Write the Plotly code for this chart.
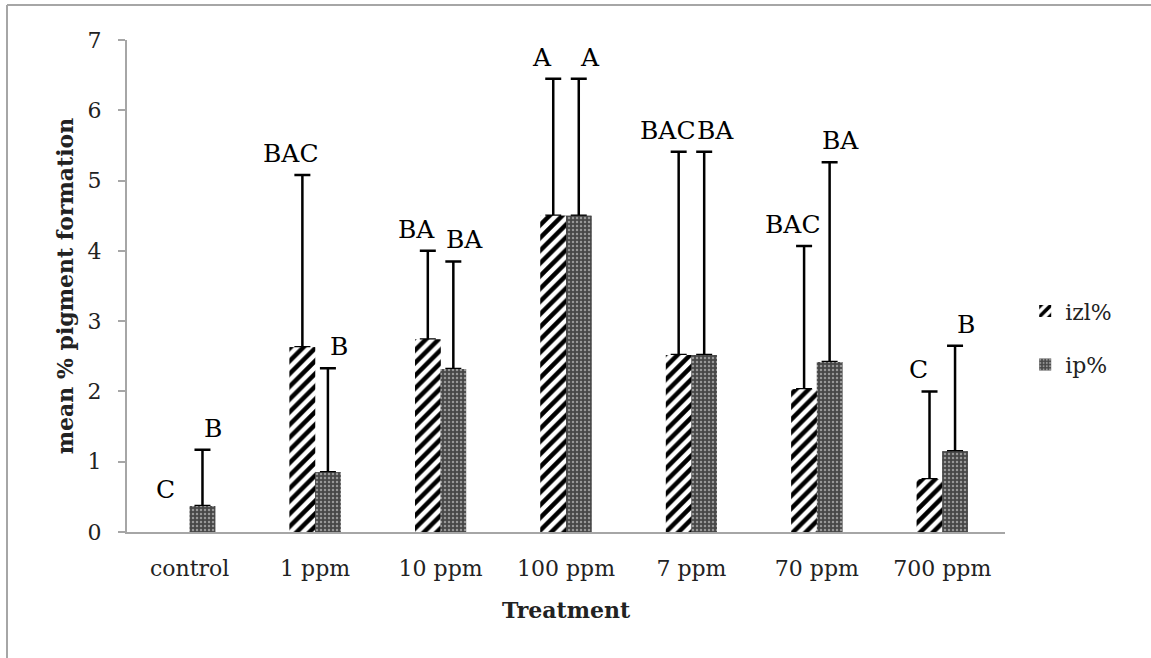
import plotly.graph_objects as go

categories = ["control", "1 ppm", "10 ppm", "100 ppm", "7 ppm", "70 ppm", "700 ppm"]

izl_values = [0.0, 2.63, 2.74, 4.50, 2.52, 2.03, 0.75]
izl_err = [0.0, 2.45, 1.26, 1.95, 2.89, 2.04, 1.25]
izl_letters = ["C", "BAC", "BA", "A", "BAC", "BAC", "C"]

ip_values = [0.37, 0.85, 2.32, 4.50, 2.52, 2.42, 1.15]
ip_err = [0.80, 1.48, 1.53, 1.95, 2.89, 2.84, 1.50]
ip_letters = ["B", "B", "BA", "A", "BA", "BA", "B"]

y_ticks = [0, 1, 2, 3, 4, 5, 6, 7]

FONT = "DejaVu Serif"
GRAY = "#a6a6a6"
TXT = "#222222"

izl_marker = dict(color="white", line=dict(width=0),
                  pattern=dict(shape="/", fgcolor="black", bgcolor="white",
                               fgopacity=1, size=9, solidity=0.5))
ip_marker = dict(color="#555555", line=dict(width=0),
                 pattern=dict(shape=".", fgcolor="#e6e6e6", bgcolor="#474747",
                              size=4, solidity=0.3))

# zero-height bars are not drawn (no bar, no error cap)
izl_plot = [v if v > 0 else None for v in izl_values]
ip_plot = [v if v > 0 else None for v in ip_values]

fig = go.Figure()
# bars carrying the (upward-only) error bars
fig.add_trace(go.Bar(
    name="izl%", x=categories, y=izl_plot, legendgroup="a", offsetgroup="izl",
    marker=izl_marker,
    error_y=dict(type="data", array=izl_err, arrayminus=[0] * len(izl_err),
                 symmetric=False, color="black", thickness=2.5, width=8),
))
fig.add_trace(go.Bar(
    name="ip%", x=categories, y=ip_plot, legendgroup="b", offsetgroup="ip",
    marker=ip_marker,
    error_y=dict(type="data", array=ip_err, arrayminus=[0] * len(ip_err),
                 symmetric=False, color="black", thickness=2.5, width=8),
))
# identical bars drawn on top to hide the lower error-bar caps
fig.add_trace(go.Bar(
    x=categories, y=izl_plot, offsetgroup="izl", showlegend=False,
    marker=izl_marker, hoverinfo="skip",
))
fig.add_trace(go.Bar(
    x=categories, y=ip_plot, offsetgroup="ip", showlegend=False,
    marker=ip_marker, hoverinfo="skip",
))

BAR_PX = 25.5
annotations = []
for series_idx, (vals, errs, letters, shift) in enumerate([
        (izl_values, izl_err, izl_letters, -11),
        (ip_values, ip_err, ip_letters, 11)]):
    for i, cat in enumerate(categories):
        top = max(vals[i] + errs[i], 0.3)
        annotations.append(dict(
            x=cat, y=top, xref="x", yref="y", text=letters[i],
            showarrow=False, yanchor="bottom", xanchor="center",
            xshift=shift + (-BAR_PX / 2 if series_idx == 0 else BAR_PX / 2),
            yshift=5, font=dict(family=FONT, size=25, color="black"),
        ))

fig.update_layout(
    width=1151, height=658,
    margin=dict(l=127, r=146, t=40, b=126, autoexpand=False),
    paper_bgcolor="white", plot_bgcolor="white",
    barmode="group", bargap=0.593, bargroupgap=0,
    font=dict(family=FONT, size=22, color=TXT),
    showlegend=True,
    legend=dict(x=1.023, y=0.394, xanchor="left", yanchor="middle",
                font=dict(family=FONT, size=22, color=TXT),
                tracegroupgap=22, bgcolor="rgba(0,0,0,0)", itemwidth=30),
    annotations=annotations,
    shapes=[
        dict(type="line", xref="paper", yref="paper",
             x0=(7 - 127) / 878, x1=(7 - 127) / 878, y0=(532 - 5) / 492, y1=-0.3,
             line=dict(color=GRAY, width=2)),
        dict(type="line", xref="paper", yref="paper",
             x0=(7 - 127) / 878, x1=1.2, y0=(532 - 5) / 492, y1=(532 - 5) / 492,
             line=dict(color=GRAY, width=2)),
    ],
)
fig.update_xaxes(
    showline=True, linecolor=GRAY, linewidth=2, ticks="", showgrid=False,
    tickfont=dict(family=FONT, size=22, color=TXT),
    ticklabelstandoff=16,
    title=dict(text="<b>Treatment</b>", standoff=22,
               font=dict(family=FONT, size=22, color=TXT)),
    automargin=False,
)
fig.update_yaxes(
    range=[0, 7], tickvals=y_ticks, showline=True, linecolor=GRAY, linewidth=2,
    ticks="outside", ticklen=7, tickcolor=GRAY, tickwidth=2, showgrid=False,
    zeroline=False,
    tickfont=dict(family=FONT, size=22, color=TXT),
    ticklabelstandoff=12,
    title=dict(text="<b>mean % pigment formation</b>", standoff=8,
               font=dict(family=FONT, size=22, color=TXT)),
    automargin=False,
)

fig.write_html("out.html", config={"displayModeBar": False},
               post_script="document.body.style.margin='0';")
